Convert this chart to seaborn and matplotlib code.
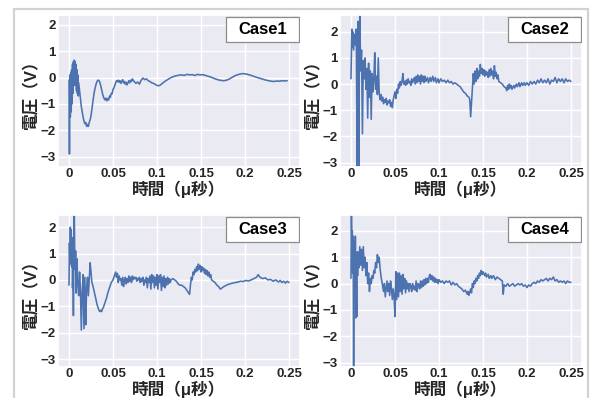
import matplotlib
matplotlib.use("Agg")
import matplotlib.pyplot as plt
from matplotlib.patches import Rectangle
from matplotlib.lines import Line2D
import seaborn as sns

# ---- data ----
case1_t = [0.0, 0.0005, 0.001, 0.0015, 0.002, 0.0025, 0.003, 0.0035, 0.004, 0.0045,
           0.005, 0.0055, 0.006, 0.0065, 0.007, 0.0075, 0.008, 0.0085, 0.009, 0.0095,
           0.010, 0.0105, 0.011, 0.012, 0.013, 0.014, 0.015, 0.016, 0.017, 0.018,
           0.019, 0.020, 0.021, 0.022, 0.023, 0.024, 0.025, 0.026, 0.027, 0.028,
           0.029, 0.030, 0.031, 0.032, 0.033, 0.034, 0.035, 0.036, 0.037, 0.038,
           0.039, 0.040, 0.041, 0.042, 0.043, 0.044, 0.045, 0.046, 0.047, 0.048,
           0.049, 0.050, 0.051, 0.052, 0.053, 0.054, 0.055, 0.056, 0.057, 0.058,
           0.059, 0.060, 0.061, 0.062, 0.063, 0.064, 0.065, 0.066, 0.067, 0.068,
           0.069, 0.070, 0.071, 0.072, 0.074, 0.076, 0.078, 0.080, 0.082, 0.084,
           0.086, 0.088, 0.090, 0.092, 0.094, 0.096, 0.098, 0.100, 0.102, 0.104,
           0.106, 0.108, 0.110, 0.113, 0.116, 0.119, 0.122, 0.125, 0.128, 0.131,
           0.134, 0.137, 0.140, 0.143, 0.146, 0.149, 0.152, 0.155, 0.158, 0.161,
           0.164, 0.167, 0.170, 0.173, 0.176, 0.179, 0.182, 0.185, 0.188, 0.191,
           0.194, 0.197, 0.200, 0.203, 0.206, 0.209, 0.212, 0.215, 0.218, 0.221,
           0.224, 0.227, 0.230, 0.233, 0.236, 0.239, 0.242, 0.245, 0.248]
case1_v = [-0.1, -2.9, 0.1, -1.5, 0.2, -1.3, 0.3, -1.0, 0.5, -0.6,
           0.6, -0.3, 0.66, -0.2, 0.6, -0.3, 0.5, -0.5, 0.3, -0.6,
           0.1, -0.7, -0.2, -0.5, -0.8, -1.1, -1.3, -1.5, -1.65, -1.75,
           -1.7, -1.85, -1.78, -1.85, -1.7, -1.6, -1.45, -1.2, -0.95, -0.7,
           -0.5, -0.35, -0.22, -0.14, -0.1, -0.11, -0.18, -0.3, -0.45, -0.6,
           -0.72, -0.8, -0.85, -0.78, -0.88, -0.8, -0.85, -0.7, -0.75, -0.6,
           -0.62, -0.45, -0.4, -0.3, -0.2, -0.12, -0.16, -0.1, -0.18, -0.12,
           -0.22, -0.15, -0.08, -0.2, -0.15, -0.25, -0.18, -0.28, -0.2, -0.12,
           -0.2, -0.1, -0.15, -0.05, -0.15, -0.22, -0.17, -0.25, -0.1, -0.02,
           -0.08, -0.05, -0.12, -0.15, -0.2, -0.22, -0.26, -0.3, -0.31, -0.28,
           -0.22, -0.17, -0.12, -0.06, 0.0, 0.04, 0.07, 0.09, 0.1, 0.08,
           0.12, 0.1, 0.11, 0.08, 0.12, 0.1, 0.11, 0.08, 0.05, 0.02,
           -0.02, -0.06, -0.09, -0.11, -0.12, -0.1, -0.06, 0.0, 0.06, 0.1,
           0.13, 0.15, 0.14, 0.12, 0.09, 0.06, 0.02, -0.01, -0.04, -0.07,
           -0.1, -0.12, -0.14, -0.15, -0.13, -0.14, -0.12, -0.13, -0.12]

case2_t = [0.0, 0.001, 0.0015, 0.002, 0.003, 0.004, 0.005, 0.006, 0.007, 0.0075,
           0.008, 0.009, 0.0095, 0.010, 0.011, 0.012, 0.013, 0.014, 0.015, 0.016,
           0.017, 0.018, 0.019, 0.020, 0.021, 0.022, 0.023, 0.024, 0.025, 0.026,
           0.027, 0.028, 0.029, 0.030, 0.031, 0.032, 0.033, 0.034, 0.035, 0.036,
           0.037, 0.038, 0.039, 0.040, 0.041, 0.042, 0.043, 0.044, 0.045, 0.046,
           0.047, 0.048, 0.049, 0.050, 0.051, 0.052, 0.053, 0.054, 0.055, 0.056,
           0.057, 0.058, 0.059, 0.060, 0.061, 0.062, 0.063, 0.064, 0.065, 0.066,
           0.067, 0.068, 0.069, 0.070, 0.072, 0.073, 0.074, 0.075, 0.076, 0.077,
           0.078, 0.079, 0.080, 0.081, 0.082, 0.083, 0.084, 0.085, 0.087, 0.088,
           0.090, 0.091, 0.093, 0.094, 0.096, 0.097, 0.099, 0.100, 0.102, 0.104,
           0.106, 0.108, 0.110, 0.112, 0.114, 0.116, 0.118, 0.120, 0.122, 0.124,
           0.126, 0.128, 0.130, 0.132, 0.134, 0.135, 0.136, 0.137, 0.138, 0.139,
           0.140, 0.141, 0.142, 0.143, 0.144, 0.145, 0.146, 0.147, 0.148, 0.149,
           0.150, 0.151, 0.152, 0.153, 0.154, 0.155, 0.156, 0.157, 0.158, 0.159,
           0.160, 0.161, 0.162, 0.163, 0.164, 0.165, 0.166, 0.167, 0.168, 0.170,
           0.172, 0.174, 0.176, 0.177, 0.178, 0.179, 0.180, 0.181, 0.182, 0.183,
           0.185, 0.186, 0.188, 0.189, 0.191, 0.192, 0.194, 0.195, 0.197, 0.198,
           0.200, 0.202, 0.204, 0.206, 0.208, 0.210, 0.212, 0.214, 0.216, 0.218,
           0.220, 0.222, 0.224, 0.226, 0.228, 0.230, 0.232, 0.234, 0.236, 0.238,
           0.240, 0.242, 0.244, 0.246, 0.248, 0.250]
case2_v = [0.2, 2.1, 1.4, 2.0, 1.3, 1.9, 1.5, 2.1, -3.3, 1.8,
           2.4, -3.3, 1.0, 2.7, 0.5, 1.3, -1.9, 0.9, 0.2, 1.0,
           -0.2, 0.6, -1.3, 0.8, -0.5, 0.5, -1.35, 0.4, -0.3, 0.2,
           1.2, -0.2, 0.3, -0.4, 1.0, -0.3, -0.6, -0.4, -0.65, -0.5,
           -0.75, -0.6, -0.7, -0.55, -0.8, -0.65, -0.72, -0.6, -0.85, -0.7,
           -0.9, -0.6, -0.45, -0.3, -0.55, -0.2, -0.35, 0.0, -0.15, 0.1,
           -0.05, 0.1, 0.4, 0.0, 0.1, -0.05, 0.15, 0.0, 0.2, 0.05,
           0.1, -0.05, 0.2, 0.05, 0.25, 0.0, 0.3, 0.05, 0.35, 0.1,
           0.3, 0.0, 0.35, 0.1, 0.3, 0.05, 0.3, 0.1, 0.25, 0.05,
           0.25, 0.1, 0.3, 0.1, 0.25, 0.05, 0.2, 0.05, 0.2, 0.1,
           0.15, 0.05, 0.15, 0.05, 0.1, 0.0, 0.05, 0.0, -0.05, -0.1,
           -0.2, -0.3, -0.35, -0.45, -0.5, -0.6, -1.25, -0.7, -0.2, 0.4,
           0.0, 0.5, 0.1, 0.6, 0.2, 0.5, 0.3, 0.75, 0.4, 0.6,
           0.35, 0.55, 0.3, 0.5, 0.35, 0.45, 0.25, 0.55, 0.3, 0.6,
           0.35, 0.5, 0.2, 0.7, 0.3, 0.45, 0.2, 0.35, 0.1, 0.05,
           0.0, -0.1, -0.15, -0.25, -0.05, -0.2, 0.0, -0.15, -0.05, -0.2,
           -0.05, -0.15, 0.0, -0.1, 0.05, -0.1, 0.05, -0.05, 0.05, -0.05,
           0.05, -0.05, 0.1, 0.0, 0.1, 0.0, 0.15, 0.05, 0.2, 0.05,
           0.15, 0.05, 0.2, 0.0, 0.15, 0.1, 0.25, 0.05, 0.2, 0.1,
           0.2, 0.05, 0.2, 0.1, 0.15, 0.1]

case3_t = [0.0, 0.0005, 0.001, 0.0015, 0.002, 0.0025, 0.003, 0.0035, 0.004, 0.0045,
           0.005, 0.0055, 0.006, 0.0065, 0.007, 0.0075, 0.008, 0.009, 0.010, 0.011,
           0.012, 0.013, 0.014, 0.015, 0.016, 0.017, 0.018, 0.019, 0.020, 0.021,
           0.022, 0.023, 0.024, 0.025, 0.026, 0.027, 0.028, 0.029, 0.030, 0.031,
           0.032, 0.033, 0.034, 0.035, 0.036, 0.037, 0.038, 0.039, 0.040, 0.041,
           0.042, 0.043, 0.044, 0.045, 0.046, 0.047, 0.048, 0.049, 0.050, 0.051,
           0.052, 0.053, 0.054, 0.055, 0.056, 0.057, 0.058, 0.059, 0.060, 0.061,
           0.062, 0.063, 0.064, 0.065, 0.066, 0.067, 0.068, 0.069, 0.070, 0.071,
           0.072, 0.073, 0.074, 0.075, 0.076, 0.077, 0.078, 0.079, 0.080, 0.081,
           0.082, 0.083, 0.084, 0.085, 0.086, 0.087, 0.088, 0.089, 0.090, 0.091,
           0.092, 0.093, 0.094, 0.095, 0.096, 0.097, 0.098, 0.099, 0.100, 0.101,
           0.102, 0.103, 0.104, 0.105, 0.106, 0.107, 0.108, 0.109, 0.110, 0.111,
           0.112, 0.113, 0.114, 0.115, 0.116, 0.118, 0.120, 0.122, 0.124, 0.126,
           0.128, 0.130, 0.132, 0.134, 0.136, 0.137, 0.138, 0.139, 0.140, 0.141,
           0.142, 0.143, 0.144, 0.145, 0.146, 0.147, 0.148, 0.149, 0.150, 0.151,
           0.152, 0.153, 0.154, 0.155, 0.156, 0.157, 0.158, 0.159, 0.160, 0.161,
           0.162, 0.164, 0.166, 0.168, 0.170, 0.172, 0.174, 0.176, 0.178, 0.180,
           0.183, 0.186, 0.189, 0.192, 0.195, 0.198, 0.201, 0.204, 0.207, 0.210,
           0.213, 0.215, 0.217, 0.220, 0.223, 0.226, 0.229, 0.232, 0.235, 0.238,
           0.240, 0.242, 0.244, 0.246, 0.248, 0.250]
case3_v = [-0.2, 1.4, 0.6, 2.0, 1.0, 1.9, 0.5, 1.6, -0.3, 0.6,
           -1.35, 0.9, 2.5, 1.0, 0.4, 1.1, -0.5, 0.8, -0.2, -0.6,
           0.3, -0.4, -1.9, -0.5, 0.2, -1.85, 0.1, -1.7, -0.3, 0.1,
           -0.6, 0.0, 0.65, 0.3, -0.1, -0.2, -0.35, -0.5, -0.65, -0.8,
           -0.95, -1.05, -1.15, -1.2, -1.15, -1.2, -1.1, -1.05, -0.95, -0.85,
           -0.75, -0.65, -0.5, -0.4, -0.3, -0.2, -0.1, -0.05, 0.0, 0.1,
           0.2, 0.3, 0.1, 0.25, -0.1, 0.15, 0.0, 0.05, -0.2, 0.1,
           -0.25, 0.0, 0.1, -0.15, 0.05, -0.1, 0.15, -0.05, 0.1, -0.1,
           0.15, 0.0, 0.1, 0.05, 0.1, -0.05, 0.05, 0.0, 0.1, -0.1,
           0.05, -0.05, 0.1, -0.2, 0.0, -0.1, 0.1, -0.3, 0.05, -0.1,
           0.15, -0.35, 0.2, -0.1, 0.15, -0.3, 0.1, -0.2, 0.2, -0.35,
           0.15, -0.1, 0.2, -0.4, 0.1, -0.25, 0.15, -0.3, 0.05, -0.2,
           0.1, -0.15, 0.05, -0.1, 0.0, 0.05, 0.0, -0.05, -0.15, -0.2,
           -0.2, -0.25, -0.3, -0.4, -0.5, -0.55, -0.2, 0.1, 0.0, 0.3,
           0.2, 0.4, 0.3, 0.5, 0.35, 0.6, 0.4, 0.55, 0.3, 0.5,
           0.35, 0.45, 0.25, 0.4, 0.2, 0.35, 0.15, 0.3, 0.1, 0.2,
           0.0, -0.05, -0.1, -0.2, -0.25, -0.35, -0.3, -0.25, -0.22, -0.18,
           -0.15, -0.12, -0.1, -0.08, -0.05, -0.06, -0.02, -0.04, 0.0, 0.05,
           0.1, 0.2, 0.1, 0.05, 0.08, 0.0, 0.02, -0.05, 0.0, -0.08,
           -0.02, -0.1, -0.05, -0.12, -0.05, -0.1]

case4_t = [0.0, 0.0005, 0.001, 0.0015, 0.002, 0.0025, 0.003, 0.0035, 0.004, 0.0045,
           0.005, 0.0055, 0.006, 0.0065, 0.007, 0.0075, 0.008, 0.009, 0.010, 0.011,
           0.012, 0.013, 0.014, 0.015, 0.016, 0.017, 0.018, 0.019, 0.020, 0.021,
           0.022, 0.023, 0.024, 0.025, 0.026, 0.027, 0.028, 0.029, 0.030, 0.031,
           0.032, 0.033, 0.034, 0.035, 0.036, 0.037, 0.038, 0.039, 0.040, 0.041,
           0.042, 0.043, 0.044, 0.045, 0.046, 0.047, 0.048, 0.049, 0.050, 0.051,
           0.052, 0.053, 0.054, 0.055, 0.056, 0.057, 0.058, 0.059, 0.060, 0.061,
           0.062, 0.063, 0.064, 0.065, 0.066, 0.067, 0.068, 0.069, 0.070, 0.071,
           0.072, 0.073, 0.074, 0.075, 0.076, 0.077, 0.078, 0.079, 0.080, 0.081,
           0.082, 0.083, 0.084, 0.085, 0.086, 0.087, 0.088, 0.089, 0.090, 0.091,
           0.092, 0.093, 0.094, 0.095, 0.096, 0.097, 0.098, 0.099, 0.100, 0.102,
           0.104, 0.106, 0.108, 0.110, 0.112, 0.114, 0.116, 0.118, 0.120, 0.122,
           0.124, 0.126, 0.128, 0.130, 0.132, 0.133, 0.134, 0.136, 0.137, 0.138,
           0.139, 0.140, 0.141, 0.142, 0.143, 0.144, 0.145, 0.146, 0.147, 0.148,
           0.149, 0.150, 0.152, 0.153, 0.154, 0.156, 0.157, 0.159, 0.160, 0.162,
           0.164, 0.166, 0.168, 0.170, 0.172, 0.173, 0.174, 0.176, 0.178, 0.180,
           0.182, 0.184, 0.186, 0.188, 0.190, 0.192, 0.194, 0.196, 0.198, 0.200,
           0.202, 0.204, 0.206, 0.208, 0.210, 0.212, 0.214, 0.216, 0.218, 0.220,
           0.222, 0.224, 0.226, 0.228, 0.230, 0.232, 0.234, 0.236, 0.238, 0.240,
           0.242, 0.244, 0.246, 0.248, 0.250]
case4_v = [0.2, 2.7, 1.6, 2.0, 0.4, 1.8, -3.3, 0.8, 1.6, -0.4,
           1.8, -1.3, 0.5, -1.25, 1.2, 0.3, 1.2, 0.6, 1.4, 0.7,
           1.3, 0.5, 1.4, 0.6, 1.0, 0.3, 0.8, 0.0, 0.4, -0.3,
           0.2, 0.0, 0.3, 0.2, 0.5, 0.4, 0.8, 0.6, 1.1, 0.8,
           1.0, 0.6, 0.3, 0.1, -0.1, -0.3, 0.0, -0.5, -0.2, 0.1,
           -0.3, 0.0, -0.45, 0.1, -0.2, -0.6, -0.2, -0.5, -1.25, 0.45,
           -0.6, 0.4, -0.5, 0.4, -0.3, 0.3, -0.4, 0.35, -0.2, 0.2,
           -0.35, 0.1, -0.2, 0.0, -0.3, 0.0, -0.1, -0.3, 0.0, -0.2,
           -0.1, -0.25, 0.1, -0.3, 0.0, -0.05, -0.2, 0.1, -0.15, 0.1,
           -0.1, 0.15, -0.05, 0.2, 0.0, 0.2, 0.05, 0.3, 0.35, 0.15,
           0.3, 0.1, 0.25, 0.05, 0.2, 0.05, 0.15, 0.0, 0.15, 0.05,
           0.1, 0.0, 0.1, 0.05, 0.1, -0.05, 0.05, -0.05, 0.0, -0.1,
           -0.15, -0.2, -0.3, -0.25, -0.4, -0.3, -0.45, -0.2, -0.35, 0.0,
           -0.15, 0.1, 0.0, 0.2, 0.1, 0.3, 0.2, 0.4, 0.3, 0.5,
           0.35, 0.45, 0.3, 0.4, 0.25, 0.35, 0.2, 0.3, 0.2, 0.3,
           0.15, 0.25, 0.2, 0.15, 0.1, -0.4, -0.05, -0.1, 0.0, -0.1,
           -0.05, 0.0, -0.1, -0.05, 0.0, -0.05, 0.0, -0.1, -0.05, -0.15,
           -0.05, -0.1, 0.0, 0.05, 0.0, 0.1, 0.05, 0.15, 0.1, 0.15,
           0.2, 0.1, 0.2, 0.15, 0.25, 0.1, 0.15, 0.05, 0.1, 0.05,
           0.1, 0.0, 0.1, 0.05, 0.05]

case_names = ["Case1", "Case2", "Case3", "Case4"]
case_ylims = [(-3.39, 2.37), (-3.17, 2.64), (-3.3, 2.46), (-3.16, 2.6)]
x_ticks = [0, 0.05, 0.1, 0.15, 0.2, 0.25]
x_tick_labels = ["0", "0.05", "0.1", "0.15", "0.2", "0.25"]
y_ticks = [-3, -2, -1, 0, 1, 2]

sns.set_theme(style="darkgrid")
plt.rcParams["font.family"] = ["Liberation Sans", "Noto Sans CJK JP", "DejaVu Sans"]
plt.rcParams["font.weight"] = "bold"

fig = plt.figure(figsize=(5.95, 3.98), dpi=100)
fig.patch.set_facecolor("white")

# panel rectangles in figure fractions
ax_w, ax_h = 0.4067, 0.3819
positions = [(0.0975, 0.5804), (0.5714, 0.5804), (0.0975, 0.0779), (0.5714, 0.0779)]
series = [(case1_t, case1_v), (case2_t, case2_v), (case3_t, case3_v), (case4_t, case4_v)]

for (left, bottom), (t, v), name, ylim in zip(positions, series, case_names, case_ylims):
    ax = fig.add_axes([left, bottom, ax_w, ax_h])
    sns.lineplot(x=t, y=v, ax=ax, color="#4C72B0", linewidth=1.15,
                 estimator=None, sort=False)
    ax.set_xlim(-0.0125, 0.2625)
    ax.set_ylim(*ylim)
    ax.set_xticks(x_ticks)
    ax.set_xticklabels(x_tick_labels)
    ax.set_yticks(y_ticks)
    ax.tick_params(axis="x", labelsize=9.5, length=0, pad=0.5)
    ax.tick_params(axis="y", labelsize=9.5, length=0, pad=1.5)
    for lab in ax.get_xticklabels() + ax.get_yticklabels():
        lab.set_fontweight("bold")
    ax.set_xlabel("時間（μ秒）", fontsize=12, fontweight="bold", labelpad=0.5)
    ax.set_ylabel("電圧（V）", fontsize=12, fontweight="bold", labelpad=1)
    # case label box
    ax.add_patch(Rectangle((0.695, 0.82), 0.30, 0.165, transform=ax.transAxes,
                           facecolor="white", edgecolor="#8c8c8c", linewidth=0.9,
                           zorder=5))
    ax.text(0.845, 0.9025, name, transform=ax.transAxes, ha="center", va="center",
            fontsize=12, fontweight="bold", color="black", zorder=6)

# light frame of the screenshot
frame_kw = dict(color="#d2d2d2", linewidth=1.6, transform=fig.transFigure)
fig.add_artist(Line2D([0.0235, 0.0235], [0.0, 0.977], **frame_kw))
fig.add_artist(Line2D([0.0235, 0.988], [0.977, 0.977], **frame_kw))
fig.add_artist(Line2D([0.988, 0.988], [0.0, 0.977], **frame_kw))

fig.savefig("out.png", dpi=100)
